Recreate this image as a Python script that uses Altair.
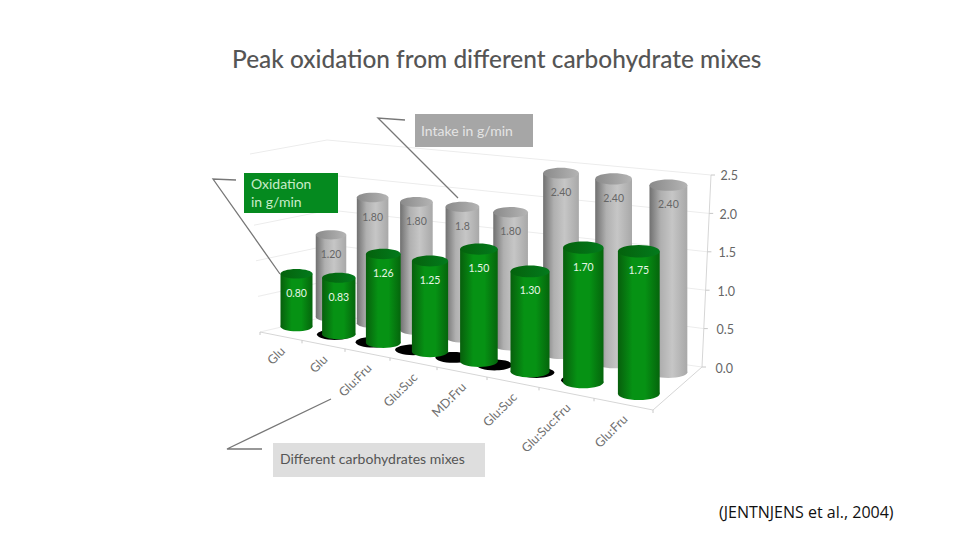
import altair as alt
import pandas as pd

# ---- values ----
categories = ["Glu", "Glu", "Glu:Fru", "Glu:Suc", "MD:Fru", "Glu:Suc", "Glu:Suc:Fru", "Glu:Fru"]
oxidation = [0.80, 0.83, 1.26, 1.25, 1.50, 1.30, 1.70, 1.75]
intake = [1.20, 1.80, 1.80, 1.80, 1.80, 2.40, 2.40, 2.40]
oxidation_labels = ["0.80", "0.83", "1.26", "1.25", "1.50", "1.30", "1.70", "1.75"]
intake_labels = ["1.20", "1.80", "1.80", "1.8", "1.80", "2.40", "2.40", "2.40"]
axis_values = [0.0, 0.5, 1.0, 1.5, 2.0, 2.5]
axis_labels = ["0.0", "0.5", "1.0", "1.5", "2.0", "2.5"]
title_text = "Peak oxidation from different carbohydrate mixes"
source_text = "(JENTNJENS et al., 2004)"

FONT = "Lato"


# ---- 3-D look: perspective of each row on the floor ----
def project(i, value, row):
    if row == "front":
        x = 296.5 + 41.2 * i + 1.1 * i * i
        y = 326.5 + 7.5 * i + 0.3 * i * i
        s = 66 + 2.2 * i
        w = 32 + 1.4 * i
    else:
        x = 331 + 40.5 * i + 1.1 * i * i
        y = 317 + 6 * i + 0.27 * i * i
        s = 68.5 + 1.35 * i
        w = 30.5 + 1.05 * i
    return x, y, y - value * s, w


def cylinders(values, labels, row):
    rows = []
    for i, (v, lab) in enumerate(zip(values, labels)):
        x, base, top, w = project(i, v, row)
        rows.append(dict(cat=categories[i], value=v, label=lab, x=x, x0=x - w / 2, x1=x + w / 2,
                         base=base, top=top, size=w * w))
    return pd.DataFrame(rows)


def lerp(a, b, t):
    return (a[0] + (b[0] - a[0]) * t, a[1] + (b[1] - a[1]) * t)


FL0, FL1 = (260, 332), (250, 154)
BL0, BL1 = (333, 315), (327, 140)
BR0, BR1 = (702, 367), (711, 175)
FR0 = (653, 410)

sx = alt.Scale(domain=[8, 952], nice=False, zero=False)
sy = alt.Scale(domain=[532, 80], nice=False, zero=False)
X = lambda f="x": alt.X(f"{f}:Q", scale=sx, axis=None)
Y = lambda f="y": alt.Y(f"{f}:Q", scale=sy, axis=None)
ELLIPSE = "M-1,0 A1,0.3 0 1,1 1,0 A1,0.3 0 1,1 -1,0 Z"


def grad(stops):
    return alt.Gradient(gradient="linear", x1=0, x2=1, y1=0, y2=0,
                        stops=[alt.GradientStop(color=c, offset=o) for o, c in stops])


def polylines(lines, color, width=1):
    rows = []
    for n, pts in enumerate(lines):
        for k, (x, y) in enumerate(pts):
            rows.append(dict(n=n, k=k, x=x, y=y))
    return alt.Chart(pd.DataFrame(rows)).mark_line(color=color, strokeWidth=width).encode(
        x=X(), y=Y(), detail="n:N", order="k:Q")


def cylinder_layers(df, body, cap, text_color):
    base = alt.Chart(df)
    ell = lambda fill, f: base.mark_point(shape=ELLIPSE, filled=True, fill=fill, opacity=1, strokeWidth=0).encode(
        x=X(), y=Y(f), size=alt.Size("size:Q", scale=None))
    return [
        base.mark_rect(fill=body).encode(x=X("x0"), x2="x1:Q", y=Y("top"), y2="base:Q"),
        ell(body, "base"),
        ell(cap, "top"),
        base.mark_text(color=text_color, font=FONT, fontSize=10.5, dy=20).encode(x=X(), y=Y("top"), text="label:N"),
    ]


# ---- walls, floor and axis ----
grid = []
for v in axis_values:
    t = v / 2.5
    grid.append([lerp(FL0, FL1, t), lerp(BL0, BL1, t), lerp(BR0, BR1, t)])
walls = polylines(grid, "#ececec")
edges = polylines([[FL0, FR0, BR0], [BR0, BR1]], "#d6d6d6")

front_ticks = [260, 302, 345, 390, 437, 487, 539, 594, 653]
tick_lines = []
for fx in front_ticks:
    fy = FL0[1] + (fx - FL0[0]) * (FR0[1] - FL0[1]) / (FR0[0] - FL0[0])
    tick_lines.append([(fx, fy), (fx, fy + 3)])
for v in axis_values:
    px, py = lerp(BR0, BR1, v / 2.5)
    tick_lines.append([(px, py), (px + 4, py)])
ticks = polylines(tick_lines, "#c8c8c8")

axis_df = pd.DataFrame({
    "label": axis_labels,
    "x": [738 - (2.5 - v) * 2 for v in axis_values],
    "y": [369 - v * 77.2 for v in axis_values],
})
axis_text = alt.Chart(axis_df).mark_text(font=FONT, fontSize=12.5, color="#666666", align="right").encode(
    x=X(), y=Y(), text="label:N")

# ---- category labels along the front edge ----
cat_rows = []
for i, c in enumerate(categories):
    cx = (front_ticks[i] + front_ticks[i + 1]) / 2
    cy = FL0[1] + (cx - FL0[0]) * (FR0[1] - FL0[1]) / (FR0[0] - FL0[0])
    cat_rows.append(dict(label=c, x=cx + 2, y=cy + 13))
cat_text = alt.Chart(pd.DataFrame(cat_rows)).mark_text(
    font=FONT, fontSize=12.5, color="#707070", angle=315, align="right", baseline="middle"
).encode(x=X(), y=Y(), text="label:N")

# ---- cylinders ----
gray_df = cylinders(intake, intake_labels, "back")
green_df = cylinders(oxidation, oxidation_labels, "front")
gray_layers = cylinder_layers(
    gray_df,
    grad([(0, "#707070"), (0.3, "#b0b0b0"), (0.6, "#c6c6c6"), (1, "#a8a8a8")]),
    grad([(0, "#8a8a8a"), (1, "#b4b4b4")]),
    "#666666",
)
green_layers = cylinder_layers(
    green_df,
    grad([(0, "#075f0c"), (0.35, "#069214"), (0.65, "#069214"), (1, "#05650c")]),
    grad([(0, "#04620c"), (1, "#037a1c")]),
    "#e6f5e6",
)

shadow_df = pd.DataFrame([
    dict(x=297 + 37.5 * i + 0.4 * i * i, y=327 + 7.6 * i, size=36 * 36) for i in range(1, 8)
])
shadows = alt.Chart(shadow_df).mark_point(shape=ELLIPSE, filled=True, fill="#000000", opacity=1, strokeWidth=0).encode(
    x=X(), y=Y(), size=alt.Size("size:Q", scale=None))

# ---- annotation boxes and call-outs ----
boxes = alt.Chart(pd.DataFrame([
    dict(x0=415, x1=533, y0=114, y1=147, c="#a6a6a6"),
    dict(x0=244, x1=338, y0=173, y1=213, c="#058a1f"),
    dict(x0=273, x1=485, y0=443, y1=477, c="#dedede"),
])).mark_rect().encode(x=X("x0"), x2="x1:Q", y=Y("y0"), y2="y1:Q", fill=alt.Fill("c:N", scale=None))

callouts = polylines([
    [(405, 120), (378, 118), (458, 198)],
    [(236, 180), (213, 179), (280, 274)],
    [(262, 449), (227, 449), (331, 399)],
], "#777777", 1.3)

box_text = alt.Chart(pd.DataFrame([
    dict(t="Intake in g/min", x=421, y=132, c="#e4e4e4"),
    dict(t="Oxidation", x=251, y=185, c="#c9ecc9"),
    dict(t="in g/min", x=251, y=203, c="#c9ecc9"),
    dict(t="Different carbohydrates mixes", x=280, y=460, c="#555555"),
])).mark_text(font=FONT, fontSize=14, align="left").encode(
    x=X(), y=Y(), text="t:N", color=alt.Color("c:N", scale=None))

source = alt.Chart(pd.DataFrame([dict(t=source_text, x=719, y=513)])).mark_text(
    font="Open Sans", fontSize=16, align="left", color="#111111"
).encode(x=X(), y=Y(), text="t:N")

chart = alt.layer(
    walls, edges, ticks, axis_text, cat_text,
    *gray_layers, shadows, *green_layers,
    callouts, boxes, box_text, source,
).properties(
    width=944,
    height=452,
    padding={"left": 0, "right": 0, "top": 72, "bottom": 0},
    autosize=alt.AutoSizeParams(type="none"),
    background="white",
    title=alt.TitleParams(title_text, anchor="start", dx=224, offset=7, font=FONT, fontSize=24.4,
                          fontWeight=500, color="#555555"),
).configure_view(stroke=None)

chart.save("out.html", embed_options={"renderer": "svg", "actions": False})
